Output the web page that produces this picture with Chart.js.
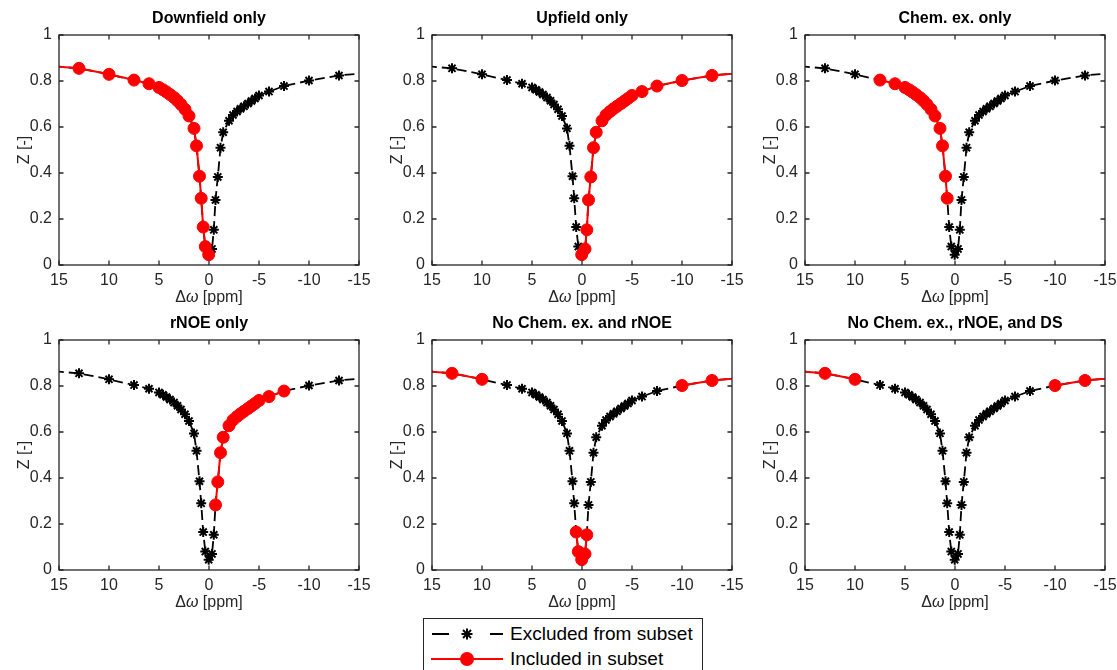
<!DOCTYPE html>
<html>
<head>
<meta charset="utf-8">
<script src="https://cdn.jsdelivr.net/npm/chart.js@4.4.0/dist/chart.umd.min.js"></script>
<style>
    html, body { margin: 0; padding: 0; background: #fff; overflow: hidden; }
    #page { position: relative; width: 1117px; height: 670px; overflow: hidden; font-family: "Liberation Sans", Arial, sans-serif; }
    .panel { position: absolute; width: 373px; height: 305px; }
    #legend { position: absolute; left: 423px; top: 618px; width: 278px; height: 60px; border: 1.5px solid #262626; background: #fff; }
    .legend-row { position: absolute; left: 0; width: 100%; height: 24px; }
    .legend-row svg { position: absolute; left: 7px; top: 0; }
    .legend-row span { position: absolute; left: 86px; top: 0; line-height: 24px; font-size: 19px; color: #000; white-space: nowrap; }
</style>
</head>
<body>
<div id="page">
    <div id="legend">
        <div class="legend-row" style="top:3px">
            <svg width="74" height="24">
                <line x1="1" y1="12" x2="18" y2="12" stroke="#000" stroke-width="2"/>
                <line x1="59" y1="12" x2="72" y2="12" stroke="#000" stroke-width="2"/>
                <g stroke="#000" stroke-width="2">
                    <line x1="30.5" y1="12" x2="41.5" y2="12"/>
                    <line x1="36" y1="6.5" x2="36" y2="17.5"/>
                    <line x1="32" y1="8" x2="40" y2="16"/>
                    <line x1="32" y1="16" x2="40" y2="8"/>
                </g>
            </svg>
            <span>Excluded from subset</span>
        </div>
        <div class="legend-row" style="top:28px">
            <svg width="74" height="24">
                <line x1="0" y1="12" x2="72" y2="12" stroke="#f00" stroke-width="2"/>
                <circle cx="36" cy="12" r="7" fill="#f00"/>
            </svg>
            <span>Included in subset</span>
        </div>
    </div>
</div>
<script>
// Z-spectrum: saturation offsets (ppm) and normalised signal
const offsets = [20, 13, 10, 7.5, 6,
    5, 4.6, 4.25, 3.9, 3.5, 3.15, 2.8, 2.4, 2,
    1.5, 1.25, 0.95, 0.78, 0.58, 0.37, 0.03,
    -0.3, -0.48, -0.65, -0.88, -1.15, -1.42,
    -2, -2.4, -2.8, -3.15, -3.5, -3.9, -4.25, -4.6, -5,
    -6, -7.5, -10, -13, -20];
const zValues = [0.88, 0.855, 0.829, 0.804, 0.788,
    0.772, 0.762, 0.752, 0.741, 0.728, 0.714, 0.698, 0.677, 0.648,
    0.594, 0.518, 0.386, 0.29, 0.165, 0.08, 0.045,
    0.07, 0.153, 0.283, 0.383, 0.51, 0.577,
    0.627, 0.652, 0.667, 0.679, 0.69, 0.702, 0.713, 0.724, 0.737,
    0.754, 0.778, 0.802, 0.824, 0.852];

// offsets that belong to each subset
const subsetDownfield = [20, 13, 10, 7.5, 6, 5, 4.6, 4.25, 3.9, 3.5, 3.15, 2.8, 2.4, 2,
    1.5, 1.25, 0.95, 0.78, 0.58, 0.37, 0.03];
const subsetUpfield = [0.03, -0.3, -0.48, -0.65, -0.88, -1.15, -1.42,
    -2, -2.4, -2.8, -3.15, -3.5, -3.9, -4.25, -4.6, -5, -6, -7.5, -10, -13, -20];
const subsetChemEx = [7.5, 6, 5, 4.6, 4.25, 3.9, 3.5, 3.15, 2.8, 2.4, 2,
    1.5, 1.25, 0.95, 0.78];
const subsetRnoe = [-0.65, -0.88, -1.15, -1.42,
    -2, -2.4, -2.8, -3.15, -3.5, -3.9, -4.25, -4.6, -5, -6, -7.5];
const subsetNoChemRnoe = [20, 13, 10, 0.58, 0.37, 0.03, -0.3, -0.48, -10, -13, -20];
const subsetNoChemRnoeDs = [20, 13, 10, -10, -13, -20];

const panelTitles = ["Downfield only", "Upfield only", "Chem. ex. only",
    "rNOE only", "No Chem. ex. and rNOE", "No Chem. ex., rNOE, and DS"];
const panelSubsets = [subsetDownfield, subsetUpfield, subsetChemEx,
    subsetRnoe, subsetNoChemRnoe, subsetNoChemRnoeDs];

const xTicks = [-15, -10, -5, 0, 5, 10, 15];
const yTicks = [0, 0.2, 0.4, 0.6, 0.8, 1];

const FONT = '"Liberation Sans", Arial, sans-serif';
const AXIS_COLOR = "#262626";
const RED = "#ff0000";
const TICK_LEN = 4.5;

// box, inward ticks, title and axis labels drawn around the plot area
const axesDecor = {
    id: "axesDecor",
    afterDraw(chart, args, opts) {
        const { ctx, chartArea: a, scales: { x, y } } = chart;
        ctx.save();
        ctx.strokeStyle = AXIS_COLOR;
        ctx.lineWidth = 1.3;
        ctx.beginPath();
        xTicks.forEach(v => {
            const px = x.getPixelForValue(v);
            ctx.moveTo(px, a.bottom); ctx.lineTo(px, a.bottom - TICK_LEN);
            ctx.moveTo(px, a.top); ctx.lineTo(px, a.top + TICK_LEN);
        });
        yTicks.forEach(v => {
            const py = y.getPixelForValue(v);
            ctx.moveTo(a.left, py); ctx.lineTo(a.left + TICK_LEN, py);
            ctx.moveTo(a.right, py); ctx.lineTo(a.right - TICK_LEN, py);
        });
        ctx.stroke();
        ctx.strokeRect(a.left, a.top, a.right - a.left, a.bottom - a.top);

        const cx = (a.left + a.right) / 2;
        ctx.textBaseline = "middle";

        // title
        ctx.fillStyle = "#000";
        ctx.textAlign = "center";
        ctx.font = "bold 16px " + FONT;
        ctx.fillText(opts.title, cx, a.top - 16);

        // x label: Δω [ppm] with italic omega
        ctx.fillStyle = AXIS_COLOR;
        ctx.textAlign = "left";
        const parts = [["Δ", "16px "], ["ω", "italic 16px "], [" [ppm]", "16px "]];
        let total = 0;
        parts.forEach(p => { ctx.font = p[1] + FONT; total += ctx.measureText(p[0]).width; });
        let tx = cx - total / 2;
        parts.forEach(p => {
            ctx.font = p[1] + FONT;
            ctx.fillText(p[0], tx, a.bottom + 33);
            tx += ctx.measureText(p[0]).width;
        });

        // y label
        ctx.translate(a.left - 34, (a.top + a.bottom) / 2);
        ctx.rotate(-Math.PI / 2);
        ctx.textAlign = "center";
        ctx.font = "16px " + FONT;
        ctx.fillText("Z [-]", 0, 0);
        ctx.restore();
    }
};

const page = document.getElementById("page");
const panelLefts = [0, 373, 746];
const panelTops = [0, 305];

panelTitles.forEach((title, p) => {
    const subset = panelSubsets[p];
    const inSet = offsets.map(o => subset.includes(o));

    const wrap = document.createElement("div");
    wrap.className = "panel";
    wrap.style.left = panelLefts[p % 3] + "px";
    wrap.style.top = panelTops[Math.floor(p / 3)] + "px";
    const canvas = document.createElement("canvas");
    wrap.appendChild(canvas);
    page.insertBefore(wrap, document.getElementById("legend"));

    new Chart(canvas, {
        type: "line",
        data: {
            datasets: [
                {
                    label: "Included in subset",
                    data: offsets.map((o, i) => ({ x: o, y: inSet[i] ? zValues[i] : null })),
                    borderColor: RED,
                    backgroundColor: RED,
                    borderWidth: 2,
                    pointStyle: "circle",
                    pointRadius: 6,
                    pointHoverRadius: 6,
                    pointBorderWidth: 1,
                    pointBackgroundColor: RED,
                    pointBorderColor: RED,
                    spanGaps: false,
                    clip: 0
                },
                {
                    label: "Excluded from subset",
                    data: offsets.map((o, i) => ({ x: o, y: zValues[i] })),
                    borderColor: "#000",
                    backgroundColor: "#000",
                    borderWidth: 1.8,
                    borderDash: [10, 5],
                    pointStyle: "star",
                    pointRadius: ctx => inSet[ctx.dataIndex] ? 0 : 5,
                    pointHoverRadius: ctx => inSet[ctx.dataIndex] ? 0 : 5,
                    pointBorderWidth: 2,
                    pointBorderColor: "#000",
                    clip: 0
                }
            ]
        },
        options: {
            responsive: true,
            maintainAspectRatio: false,
            animation: false,
            events: [],
            layout: { padding: { top: 35, right: 14, bottom: 0, left: 0 } },
            scales: {
                x: {
                    type: "linear",
                    reverse: true,
                    min: -15,
                    max: 15,
                    afterBuildTicks: s => { s.ticks = xTicks.map(v => ({ value: v })); },
                    afterFit: s => { s.height = 40; },
                    grid: { display: false, drawTicks: false },
                    border: { display: false },
                    ticks: {
                        color: AXIS_COLOR,
                        font: { family: FONT, size: 16 },
                        padding: 6,
                        maxRotation: 0,
                        autoSkip: false,
                        callback: v => String(v)
                    }
                },
                y: {
                    type: "linear",
                    min: 0,
                    max: 1,
                    afterBuildTicks: s => { s.ticks = yTicks.map(v => ({ value: v })); },
                    afterFit: s => { s.width = 59; },
                    grid: { display: false, drawTicks: false },
                    border: { display: false },
                    ticks: {
                        color: AXIS_COLOR,
                        font: { family: FONT, size: 16 },
                        padding: 7,
                        autoSkip: false,
                        callback: v => String(v)
                    }
                }
            },
            plugins: {
                legend: { display: false },
                tooltip: { enabled: false },
                axesDecor: { title: title }
            }
        },
        plugins: [axesDecor]
    });
});
</script>
</body>
</html>
